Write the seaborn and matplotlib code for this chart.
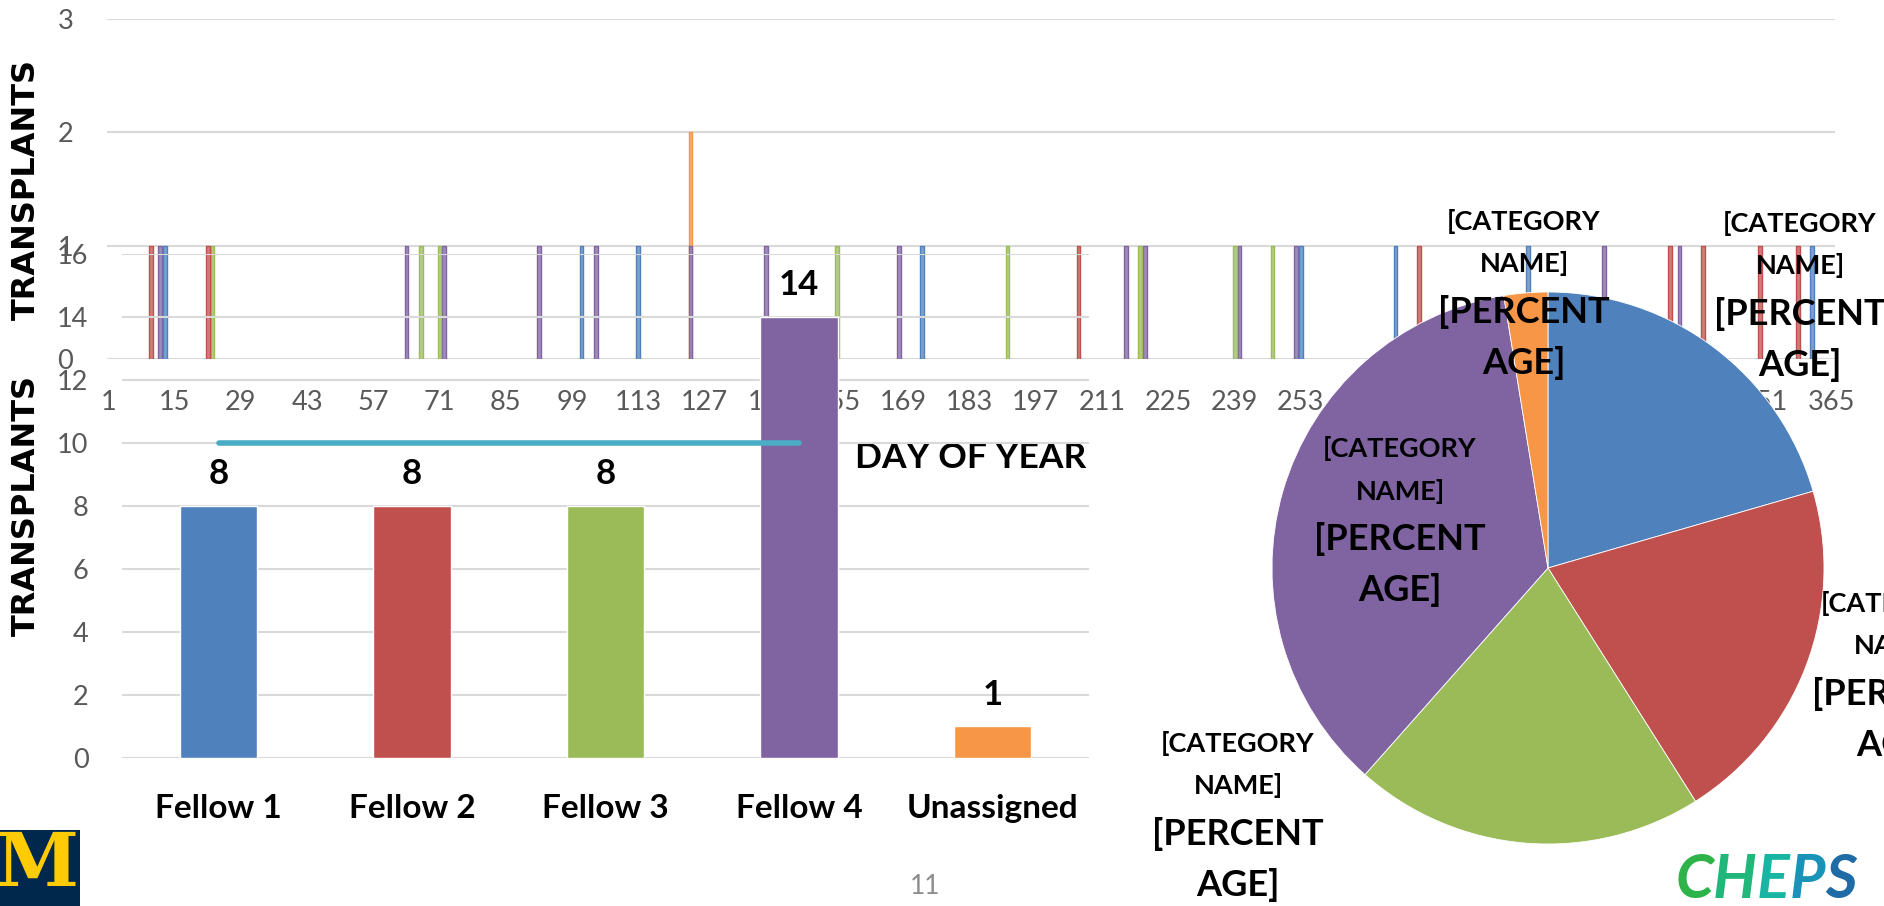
import numpy as np
import pandas as pd
import matplotlib
matplotlib.use("Agg")
import matplotlib.pyplot as plt
import matplotlib.colors as mcolors
from matplotlib.patches import Rectangle
from matplotlib.offsetbox import TextArea, HPacker, AnnotationBbox
import seaborn as sns

# ---------------- data ----------------
fellows = ["Fellow 1", "Fellow 2", "Fellow 3", "Fellow 4", "Unassigned"]
fellow_colors = ["#4F81BD", "#C0504D", "#9BBB59", "#8064A2", "#F79646"]

# day of year of each transplant, per fellow
days_fellow1 = [13, 101, 113, 173, 253, 273, 301, 361]
days_fellow2 = [10, 22, 206, 278, 331, 338, 350, 358]
days_fellow3 = [23, 67, 71, 155, 191, 219, 239, 247]
days_fellow4 = [12, 64, 72, 92, 104, 124, 140, 168, 216, 220, 240, 252, 317, 333]
days_unassigned = [124]

# per-fellow target
target_fellows = ["Fellow 1", "Fellow 2", "Fellow 3", "Fellow 4"]
target_values = [10, 10, 10, 10]

day_ticks = list(range(1, 366, 14))
top_yticks = [0, 1, 2, 3]
bar_yticks = list(range(0, 17, 2))

# ---------------- style ----------------
sns.set_style("white")
SANS = ["Lato", "DejaVu Sans"]
plt.rcParams["font.family"] = SANS
TICK_GRAY = "#595959"
GRID = "#D9D9D9"

W, H = 1884, 906
fig = plt.figure(figsize=(W / 100, H / 100), dpi=100)
fig.patch.set_facecolor("white")


def px_box(left, top, right, bottom):
    return [left / W, 1 - bottom / H, (right - left) / W, (bottom - top) / H]


ax_top = fig.add_axes(px_box(106.7, 19, 1835, 359))
ax_bar = fig.add_axes(px_box(122, 253.7, 1089, 757.7))
ax_pie = fig.add_axes(px_box(1272, 292, 1824, 844))

# ---------------- daily transplants (stacked spikes) ----------------
day_lists = [days_fellow1, days_fellow2, days_fellow3, days_fellow4, days_unassigned]
rows = []
stack = {}
for name, days in zip(fellows, day_lists):
    for d in days:
        stack[d] = stack.get(d, 0) + 1
        rows.append({"day": d, "fellow": name, "top": stack[d]})
spikes = pd.DataFrame(rows)

sns.barplot(data=spikes, x="day", y="top", hue="fellow",
            hue_order=fellows[::-1], palette=dict(zip(fellows, fellow_colors)),
            native_scale=True, dodge=False, width=0.8, saturation=1,
            errorbar=None, legend=False, ax=ax_top)
for p in ax_top.patches:
    c = np.array(mcolors.to_rgb(p.get_facecolor()))
    p.set_edgecolor(c)
    p.set_facecolor(c * 0.75 + 0.25)
    p.set_linewidth(1.0)

ax_top.set_xlim(0.66, 365.85)
ax_top.set_ylim(0, 3)
ax_top.set_xticks(day_ticks)
ax_top.set_xticklabels([str(d) for d in day_ticks])
ax_top.set_yticks(top_yticks)
ax_top.set_yticklabels([str(v) for v in top_yticks])
ax_top.set_xlabel("")
ax_top.set_ylabel("")
ax_top.set_axisbelow(True)
ax_top.grid(axis="y", color=GRID, linewidth=1.5)
ax_top.grid(axis="x", visible=False)
for s in ax_top.spines.values():
    s.set_visible(False)
ax_top.tick_params(axis="x", length=0, pad=22, labelsize=19.5, labelcolor=TICK_GRAY)
ax_top.tick_params(axis="y", length=0, pad=24, labelsize=19.5, labelcolor=TICK_GRAY)
ax_top.text((1835 + 106.7) / 2 / W, 1 - 458 / H, "DAY OF YEAR",
            transform=fig.transFigure, ha="center", va="center",
            fontsize=25.5, fontweight="bold", color="black")

# ---------------- totals per fellow ----------------
counts = [len(d) for d in day_lists]
bar_df = pd.DataFrame({"fellow": fellows, "count": counts})
ax_bar.set_facecolor("none")
sns.barplot(data=bar_df, x="fellow", y="count", hue="fellow", palette=fellow_colors,
            saturation=1, width=0.4, legend=False, ax=ax_bar)
for cont in ax_bar.containers:
    ax_bar.bar_label(cont, fmt="%d", padding=11, fontsize=25,
                     fontweight="bold", color="black")
sns.lineplot(x=[fellows.index(f) for f in target_fellows], y=target_values,
             color="#4BACC6", linewidth=4, solid_capstyle="round", ax=ax_bar)
ax_bar.set_xlim(-0.5, len(fellows) - 0.5)
ax_bar.set_ylim(0, 16)
ax_bar.set_yticks(bar_yticks)
ax_bar.set_yticklabels([str(v) for v in bar_yticks])
ax_bar.set_xlabel("")
ax_bar.set_ylabel("")
ax_bar.set_axisbelow(True)
ax_bar.grid(axis="y", color=GRID, linewidth=1.5)
ax_bar.grid(axis="x", visible=False)
for s in ax_bar.spines.values():
    s.set_visible(False)
ax_bar.tick_params(axis="x", length=0, pad=26, labelsize=24, labelcolor="black")
ax_bar.tick_params(axis="y", length=0, pad=24, labelsize=19.5, labelcolor=TICK_GRAY)
for lab in ax_bar.get_xticklabels():
    lab.set_fontweight("bold")

# ---------------- share per fellow ----------------
ax_pie.set_facecolor("none")
ax_pie.pie(counts, colors=fellow_colors, startangle=90, counterclock=False, radius=1,
           wedgeprops=dict(edgecolor="white", linewidth=0.6))
ax_pie.set_xlim(-1, 1)
ax_pie.set_ylim(-1, 1)
ax_pie.set_aspect("equal")
ax_pie.axis("off")

# data-label placement (x centre, y of first line) in pixels from top-left
label_anchor = {
    "Fellow 1": (1800, 223),
    "Fellow 2": (1898, 603),
    "Fellow 3": (1238, 743),
    "Fellow 4": (1400, 448),
    "Unassigned": (1524, 221),
}
label_lines = [(0, "[CATEGORY", 19.5), (43, "NAME]", 19.5),
               (91, "[PERCENT", 26), (142, "AGE]", 26)]
for name in fellows:
    cx, cy = label_anchor[name]
    for dy, txt, fs in label_lines:
        fig.text(cx / W, 1 - (cy + dy) / H, txt, ha="center", va="center",
                 fontsize=fs, fontweight="bold", color="black")

# ---------------- axis titles, page furniture ----------------
for cy in (189, 505):
    fig.text(26 / W, 1 - cy / H, "TRANSPLANTS", rotation=90, ha="center", va="center",
             fontsize=23, fontweight="bold", color="black", family="DejaVu Sans")

fig.text(925 / W, 1 - 886 / H, "11", ha="center", va="center",
         fontsize=19, color="#8C8C8C")

# block M
fig.patches.append(Rectangle((0, 0), 80 / W, 76 / H, transform=fig.transFigure,
                             facecolor="#00274C", edgecolor="none", zorder=2))
fig.text(37 / W, 1 - 866 / H, "M", ha="center", va="center", fontsize=54,
         fontweight="bold", color="#FFCB05", family="DejaVu Serif", zorder=3)

# CHEPS wordmark
cheps_colors = ["#2DB34A", "#21B67A", "#19B5A3", "#1A93B8", "#1F6BA5"]
letters = [TextArea(ch, textprops=dict(color=col, fontsize=44, style="italic",
                                       fontweight="bold", family=SANS))
           for ch, col in zip("CHEPS", cheps_colors)]
pack = HPacker(children=letters, pad=0, sep=0)
fig.add_artist(AnnotationBbox(pack, (1766 / W, 1 - 880 / H), xycoords="figure fraction",
                              frameon=False, box_alignment=(0.5, 0.5)))

fig.savefig("out.png", dpi=100, facecolor="white")
